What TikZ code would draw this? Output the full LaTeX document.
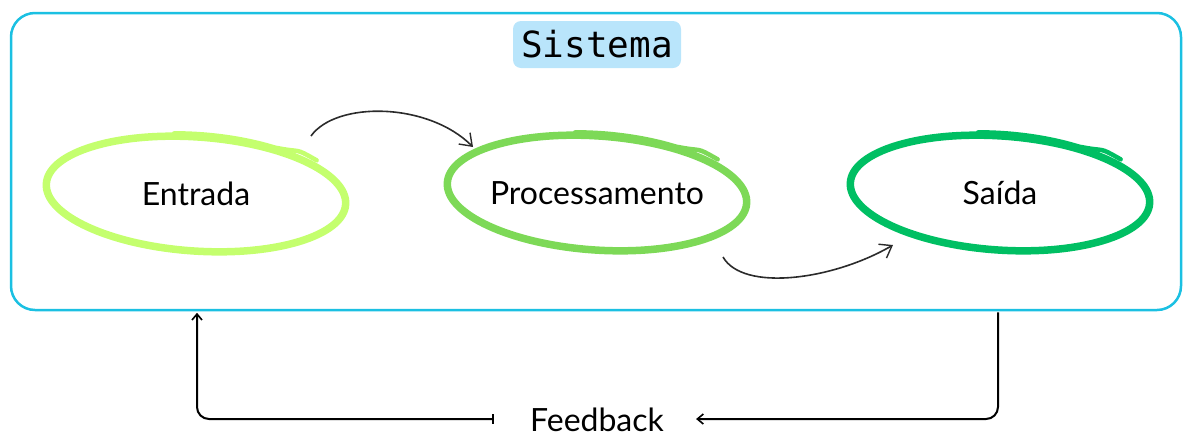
\documentclass[tikz,border=0pt]{standalone}
\usepackage{fontspec}
\setmainfont{Lato}
\newfontfamily\sysmono{DejaVu Sans Mono}
\usetikzlibrary{shapes.geometric,arrows.meta,calc}
\definecolor{sysblue}{HTML}{1BC0E2}
\definecolor{tagblue}{HTML}{B9E5FB}
\definecolor{gA}{HTML}{C4FF6E}
\definecolor{gB}{HTML}{7DD957}
\definecolor{gC}{HTML}{00BF63}
\definecolor{inkgray}{HTML}{2B2B2B}
\tikzset{
  sysbox/.style={draw=sysblue, line width=2.5pt, rounded corners=24pt, minimum width=1170pt, minimum height=297pt, inner sep=0pt},
  tagbox/.style={fill=tagblue, rounded corners=8pt, minimum width=168pt, minimum height=47pt, inner sep=0pt, font=\sysmono\fontsize{36}{40}\selectfont},
  oval/.style={ellipse, minimum width=300pt, minimum height=114pt, inner sep=0pt, font=\fontsize{32}{38}\selectfont},
  ring/.style={line width=7.5pt},
  flour/.style={line width=4.5pt, line cap=round},
  curvearrow/.style={draw=inkgray, line width=1.6pt, -{Straight Barb[length=11pt,width=16pt,line width=1.4pt]}},
  fbline/.style={draw=black, line width=2pt, rounded corners=12pt},
  fbtext/.style={font=\fontsize{32}{38}\selectfont, inner sep=0pt}
}
\begin{document}
\begin{tikzpicture}[x=1pt,y=-1pt]
\useasboundingbox (0,0) rectangle (1183,437);
\node[sysbox] (sys) at (596,161.5) {};
\node[tagbox] (tag) at (597,44.5) {Sistema};
\node[oval] (ent) at (196,194) {Entrada};
\node[oval] (proc) at (597,193) {Processamento};
\node[oval] (sai) at (1000,193) {Saída};
% hand-drawn rings with overlap strokes
\foreach \n/\c in {ent/gA, proc/gB, sai/gC}{
  \begin{scope}[rotate around={-4:(\n.center)}]
    \draw[ring, draw=\c] (\n.center) ellipse[x radius=150, y radius=57];
    \draw[flour, draw=\c] ([shift={(-26,-59)}]\n.center) arc[start angle=-100, end angle=-60, x radius=150, y radius=60]
      .. controls +(30,4) and +(-25,-12) .. ([shift={(118,-42)}]\n.center);
  \end{scope}
}
% curved arrows
\coordinate (a1s) at ([shift={(115,-58)}]ent.center);
\coordinate (a1e) at ([shift={(-124,-46)}]proc.center);
\coordinate (a2s) at ([shift={(126,64)}]proc.center);
\coordinate (a2e) at ([shift={(-107,52)}]sai.center);
\draw[curvearrow] (a1s) .. controls +(25,-35) and +(-45,-45) .. (a1e);
\draw[curvearrow] (a2s) .. controls +(20,35) and +(-60,35) .. (a2e);
% feedback
\node[fbtext] (fb) at (597,420) {Feedback};
\coordinate (fbL) at ([xshift=-36pt]fb.west |- 0,419);
\coordinate (fbR) at ([xshift=32pt]fb.east |- 0,419);
\coordinate (upL) at (sys.south -| 197,0);
\coordinate (dnR) at (sys.south -| 998,0);
\draw[fbline, {Bar[width=10pt,line width=1.5pt]}-{Straight Barb[length=6pt,width=10pt,line width=1.6pt]}] (fbL) -| ([yshift=-1.5pt]upL);
\draw[fbline, -{Straight Barb[length=6pt,width=10pt,line width=1.6pt]}] ([yshift=-1pt]dnR) |- (fbR);
\end{tikzpicture}
\end{document}
